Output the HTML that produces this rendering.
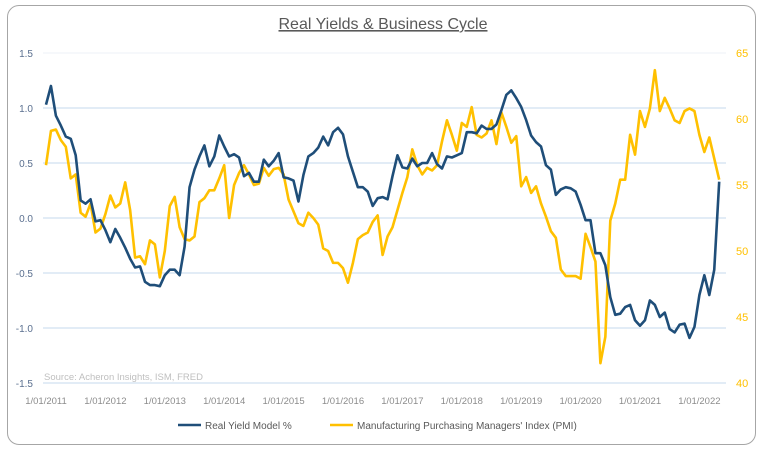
<!DOCTYPE html>
<html><head><meta charset="utf-8"><style>
body{margin:0;background:#fff;width:766px;height:452px;overflow:hidden;font-family:"Liberation Sans",sans-serif}
#frame{position:absolute;left:7px;top:5px;width:749px;height:440px;border:1px solid #a6a6a6;border-radius:12px;box-sizing:border-box}
</style></head><body>
<div id="frame"></div>
<svg id="c" width="766" height="452" style="position:absolute;left:0;top:0"></svg>
<script>
const startYear=2011;
const realYield=[1.03,1.20,0.93,0.84,0.74,0.72,0.57,0.16,0.13,0.17,-0.03,-0.02,-0.11,-0.22,-0.10,-0.18,-0.27,-0.37,-0.45,-0.44,-0.58,-0.61,-0.61,-0.62,-0.52,-0.47,-0.47,-0.52,-0.26,0.28,0.44,0.56,0.66,0.47,0.56,0.75,0.65,0.56,0.58,0.55,0.38,0.41,0.33,0.33,0.53,0.47,0.52,0.59,0.37,0.36,0.34,0.15,0.39,0.56,0.59,0.64,0.74,0.66,0.78,0.82,0.76,0.56,0.42,0.28,0.28,0.24,0.11,0.18,0.19,0.17,0.38,0.57,0.46,0.45,0.54,0.47,0.50,0.50,0.59,0.49,0.45,0.56,0.55,0.57,0.59,0.78,0.78,0.77,0.84,0.81,0.81,0.85,0.98,1.12,1.16,1.09,1.01,0.89,0.75,0.69,0.65,0.48,0.44,0.21,0.26,0.28,0.27,0.24,0.12,-0.02,-0.02,-0.32,-0.32,-0.43,-0.72,-0.88,-0.87,-0.81,-0.79,-0.93,-0.98,-0.93,-0.75,-0.79,-0.90,-0.86,-1.01,-1.04,-0.97,-0.96,-1.09,-0.99,-0.70,-0.52,-0.70,-0.47,0.33];
const pmi=[56.5,59.1,59.2,58.4,57.9,55.5,55.8,52.9,52.6,53.6,51.4,51.7,52.8,54.2,53.3,53.6,55.2,53.1,49.5,49.6,49.0,50.8,50.5,48.0,50.0,53.4,54.1,51.8,50.9,50.8,51.1,53.7,54.0,54.6,54.6,55.5,56.5,52.5,55.0,55.9,56.5,55.8,55.0,55.1,56.3,55.7,56.2,56.3,55.8,53.9,53.0,52.1,51.9,52.9,52.5,52.0,50.2,50.0,49.1,49.1,48.7,47.6,49.1,50.9,51.2,51.4,52.2,52.7,49.7,51.1,51.8,53.1,54.4,55.6,57.7,56.5,55.8,56.3,56.1,56.5,58.3,59.9,58.8,57.6,59.7,59.4,60.9,58.8,58.6,58.9,59.9,58.1,60.5,59.4,58.2,58.7,54.9,55.6,54.4,54.9,53.6,52.6,51.5,51.0,48.6,48.1,48.1,48.1,47.9,51.3,50.3,49.2,41.5,43.5,52.3,53.6,55.4,55.4,58.8,57.3,60.6,59.4,60.8,63.7,60.6,61.6,60.8,59.9,59.7,60.6,60.8,60.6,58.8,57.5,58.6,57.0,55.4];
const leftTicks=[1.5,1.0,0.5,0.0,-0.5,-1.0,-1.5];
const rightTicks=[65,60,55,50,45,40];
const xLabels=["1/01/2011","1/01/2012","1/01/2013","1/01/2014","1/01/2015","1/01/2016","1/01/2017","1/01/2018","1/01/2019","1/01/2020","1/01/2021","1/01/2022"];
const svg=document.getElementById('c');const NS='http://www.w3.org/2000/svg';
function mk(t,a,p){const e=document.createElementNS(NS,t);for(const k in a)e.setAttribute(k,a[k]);(p||svg).appendChild(e);return e;}
const X0=46,DX=4.95;
const x=i=>X0+DX*i;
const yL=v=>218-110*v;
const yR=v=>53+(65-v)*13.2;
const t=mk('text',{x:383,y:29,'text-anchor':'middle','font-size':16,fill:'#595959','text-decoration':'underline'});
t.textContent='Real Yields & Business Cycle';


leftTicks.forEach(v=>{
 const g=mk('line',{x1:43,x2:726,y1:yL(v),y2:yL(v),stroke:v==1.5?'#eef2f7':'#c5d9ee','stroke-width':1});
 
 
 const l=mk('text',{x:33,y:yL(v)+4,'text-anchor':'end','font-size':10,fill:'#5a6f8f'});
 l.textContent=v.toFixed(1);
 
 
});
rightTicks.forEach(v=>{
 const l=mk('text',{x:736,y:yR(v)+4,'font-size':11,fill:'#ffc000'});
 l.textContent=v;
 
 
});
xLabels.forEach((s,k)=>{
 const l=mk('text',{x:x(k*12),y:404,'text-anchor':'middle','font-size':9.5,fill:'#8c8c8c'});
 l.textContent=s;
 
 
});
const src=mk('text',{x:44,y:380,'font-size':9.5,fill:'#bfbfbf'});
src.textContent='Source: Acheron Insights, ISM, FRED';


const p1=mk('polyline',{points:pmi.map((v,i)=>x(i)+','+yR(v)).join(' '),fill:'none',stroke:'#ffc000','stroke-width':2.6,'stroke-linejoin':'round'});


const p2=mk('polyline',{points:realYield.map((v,i)=>x(i)+','+yL(v)).join(' '),fill:'none',stroke:'#1f4e79','stroke-width':2.6,'stroke-linejoin':'round'});


const l1=mk('line',{x1:178,x2:201,y1:425,y2:425,stroke:'#1f4e79','stroke-width':2.6});


const lt1=mk('text',{x:205,y:429,'font-size':10,fill:'#595959'});
lt1.textContent='Real Yield Model %';


const l2=mk('line',{x1:330,x2:353,y1:425,y2:425,stroke:'#ffc000','stroke-width':2.6});


const lt2=mk('text',{x:357,y:429,'font-size':10,fill:'#595959'});
lt2.textContent="Manufacturing Purchasing Managers' Index (PMI)";


</script>
</body></html>
